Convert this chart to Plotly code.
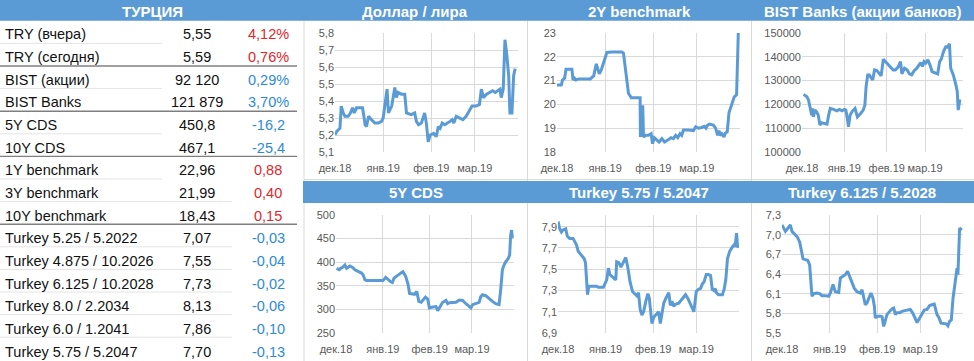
import pandas as pd
import plotly.graph_objects as go

W, H = 974, 361
BASE = pd.Timestamp("2018-12-01")

# ---------------- table data ----------------
table_title = "ТУРЦИЯ"
table_labels = ["TRY (вчера)", "TRY (сегодня)", "BIST (акции)", "BIST Banks", "5Y CDS", "10Y CDS",
                "1Y benchmark", "3Y benchmark", "10Y benchmark", "Turkey 5.25 / 5.2022",
                "Turkey 4.875 / 10.2026", "Turkey 6.125 / 10.2028", "Turkey 8.0 / 2.2034",
                "Turkey 6.0 / 1.2041", "Turkey 5.75 / 5.2047"]
table_values = ["5,55", "5,59", "92 120", "121 879", "450,8", "467,1", "22,96", "21,99", "18,43",
                "7,07", "7,55", "7,73", "8,13", "7,86", "7,70"]
table_changes = ["4,12%", "0,76%", "0,29%", "3,70%", "-16,2", "-25,4", "0,88", "0,40", "0,15",
                 "-0,03", "-0,04", "-0,02", "-0,06", "-0,10", "-0,13"]
table_change_negative_for_market = [True, True, False, False, False, False, True, True, True,
                                    False, False, False, False, False, False]

# ---------------- chart data (days since 1 Dec 2018) ----------------
month_ticks = ["2018-12-01", "2019-01-01", "2019-02-01", "2019-03-01"]
month_labels = ["дек.18", "янв.19", "фев.19", "мар.19"]

usd_try_days = [0, 1, 3.2, 4, 5.3, 6.4, 8.5, 10, 11.3, 12.4, 13.9, 16, 17.7, 18.6, 19.4, 20.3, 21.6, 23.5,
                25.6, 27.8, 30, 31, 33.5, 34.4, 36.5, 38.5, 39.5, 40.6, 42.7, 44.9, 46, 49, 51.3, 52.4,
                53.8, 55.6, 57.7, 58.8, 60, 61.3, 63.5, 65.2, 66.5, 67.7, 69, 70.7, 72.6, 74, 75.4, 76.5,
                78, 80, 82.3, 84.4, 86.5, 88.2, 90.8, 93, 94.2, 95.5, 97.6, 99.8, 101.5, 103.2, 104.9,
                106.2, 107, 108.3, 109.4, 110.5, 111.8, 112.6, 113.9, 115, 116]
usd_try_vals = [5.20, 5.22, 5.24, 5.37, 5.33, 5.31, 5.31, 5.33, 5.36, 5.33, 5.36, 5.36, 5.36, 5.31, 5.26,
                5.25, 5.31, 5.29, 5.27, 5.27, 5.28, 5.30, 5.47, 5.33, 5.37, 5.48, 5.42, 5.45, 5.44, 5.44,
                5.33, 5.32, 5.33, 5.28, 5.26, 5.27, 5.33, 5.27, 5.16, 5.20, 5.21, 5.19, 5.25, 5.24, 5.27,
                5.26, 5.27, 5.28, 5.29, 5.27, 5.31, 5.30, 5.29, 5.31, 5.34, 5.37, 5.37, 5.38, 5.47, 5.42,
                5.44, 5.45, 5.46, 5.45, 5.46, 5.47, 5.42, 5.47, 5.76, 5.68, 5.55, 5.33, 5.33, 5.55, 5.59]

bench2y_days = [0, 2.8, 3.6, 4.9, 5.8, 9.6, 10.3, 11.3, 12.2, 13.9, 21.4, 23.6, 25.3, 27.2, 28.5, 30.6,
                32.1, 35.3, 41.8, 42.8, 43.9, 45, 46, 47.8, 53.5, 53.7, 54.6, 55.2, 55.7, 57.2, 58.9,
                60.6, 61.5, 62.7, 64.2, 65.7, 67.5, 69.2, 71.3, 73.4, 74.9, 76.4, 77.7, 79.2, 80.3, 81.4,
                84.6, 87.8, 89.3, 91, 93.1, 94.9, 95.9, 97, 98.1, 100.6, 102.1, 103.4, 104.3, 104.9, 106,
                107.5, 108.1, 109.6, 110.7, 112.4, 114.1, 115.6, 116.7]
bench2y_vals = [20.82, 20.82, 21.03, 21.10, 21.48, 21.48, 21.03, 21.10, 21.03, 21.07, 21.07, 21.20, 21.70,
                21.28, 21.45, 21.94, 22.18, 22.20, 22.20, 22.15, 21.60, 20.90, 20.47, 20.28, 20.28, 18.63,
                19.90, 19.90, 18.63, 18.70, 18.70, 18.77, 18.35, 18.60, 18.50, 18.42, 18.56, 18.42, 18.50,
                18.60, 18.56, 18.70, 18.60, 18.77, 18.70, 18.92, 18.92, 18.90, 19.06, 19.00, 19.03, 19.08,
                19.00, 19.13, 19.17, 19.13, 19.00, 18.70, 18.90, 18.70, 18.77, 18.63, 18.77, 18.85, 19.65,
                20.04, 20.32, 20.40, 23.00]

bist_banks_days = [1.2, 3.6, 4.8, 6, 7.1, 7.9, 8.3, 9.5, 10.7, 11.9, 13.1, 14.3, 16.7, 18.3, 19.5, 20.7,
                   23.1, 25.5, 27.4, 29.3, 31, 32.1, 33.3, 34, 35.2, 36.9, 38.8, 40.5, 42.9, 44.8, 46,
                   46.9, 48.1, 49.3, 50.7, 51.7, 53.1, 54.8, 56.4, 57.9, 59.5, 61.2, 63.1, 65, 66.7, 68.3,
                   70.2, 72.1, 73.1, 75, 76.9, 78.6, 80.2, 82.1, 84, 85.7, 86.9, 88.1, 89.3, 90.5, 92.1,
                   93.6, 95.2, 96.9, 99.3, 100.7, 101.9, 103.6, 105.5, 106.4, 107.9, 108.8, 110.7, 112.6,
                   113.6, 114.3, 115, 115.5]
bist_banks_vals = [124200, 123200, 121800, 117600, 115500, 118300, 114800, 117600, 116900, 115500, 111300,
                   112300, 112000, 111700, 115500, 118300, 117900, 117300, 117900, 117300, 117900, 117600,
                   113400, 110600, 115500, 117200, 118300, 114800, 116200, 117600, 119700, 127500, 132400,
                   132400, 131000, 130300, 134500, 134200, 133100, 132000, 139000, 138000, 136600, 135900,
                   134500, 134500, 135600, 138000, 132800, 135200, 134500, 132800, 132400, 134200, 135200,
                   136600, 137600, 135900, 138000, 137300, 138700, 136600, 133800, 133400, 132800, 138000,
                   139000, 142300, 144600, 143700, 145500, 135200, 132400, 128200, 125400, 117600, 120400,
                   122100]

cds5y_days = [0.4, 2.2, 3.1, 4.4, 5.9, 7, 9.2, 11, 12.5, 14.7, 16.9, 18, 19.1, 20.2, 31.1, 32.9, 34.4, 36,
              37.3, 38.4, 39.9, 42.1, 44.3, 46.1, 47.6, 48.7, 52, 53.5, 54.8, 56.4, 57.9, 59.2, 60.7,
              61.8, 64, 66.2, 67.3, 68.4, 69.5, 70.6, 72.8, 73.9, 75, 77.2, 79.4, 81.6, 83.8, 86, 88.2,
              89.3, 90.4, 92.5, 94.7, 95.8, 96.9, 99.1, 101.3, 103.5, 105.7, 107.9, 109, 110.1, 111.2,
              112.3, 114, 114.9, 115.6, 116.2, 116.7]
cds5y_vals = [387, 384, 387, 389, 394, 387, 392, 389, 384, 380, 377, 373, 363, 361, 361, 368, 363, 359,
              357, 366, 370, 375, 380, 370, 354, 334, 332, 338, 317, 315, 320, 326, 322, 303, 305, 306,
              297, 303, 310, 315, 319, 312, 314, 314, 315, 320, 319, 312, 306, 303, 310, 312, 315, 327,
              331, 329, 322, 317, 312, 310, 342, 384, 394, 401, 408, 415, 458, 468, 451]

t2047_days = [0, 1.1, 2.2, 3.3, 5, 6.1, 7.6, 9.8, 10.9, 12, 13.1, 15.3, 17, 17.9, 18.8, 19.2, 20.1, 25.1,
              26.2, 29.5, 31.7, 32.8, 33.8, 36, 37.6, 38.2, 39.7, 41, 42.6, 44.1, 45.4, 46.9, 48.5, 50.2,
              51.3, 52.4, 53.5, 54.6, 55.7, 57.2, 58.5, 59.4, 60.5, 61.1, 62.4, 63.8, 65.5, 66.6, 67.7,
              68.8, 70.3, 72.1, 73.1, 74.2, 75.3, 76.4, 78.6, 80.3, 81.9, 83, 84.7, 86.2, 87.8, 88.4, 90,
              91.3, 92.8, 93.9, 95, 96.5, 97.8, 99.3, 100.4, 101.5, 102.2, 103.1, 104.4, 107, 108.1,
              109.2, 110.3, 111.8, 113.5, 114.6, 115.3, 116.2, 116.8, 117.4]
t2047_vals = [7.95, 7.88, 7.85, 7.87, 7.88, 7.81, 7.79, 7.79, 7.76, 7.73, 7.67, 7.63, 7.60, 7.56, 7.37,
              7.26, 7.34, 7.34, 7.33, 7.33, 7.40, 7.51, 7.45, 7.42, 7.40, 7.57, 7.56, 7.52, 7.56, 7.61,
              7.52, 7.38, 7.29, 7.26, 7.25, 7.28, 7.12, 7.07, 7.10, 7.20, 7.27, 7.23, 7.09, 6.99, 7.05,
              7.07, 7.10, 6.99, 7.10, 7.18, 7.23, 7.28, 7.16, 7.20, 7.15, 7.17, 7.18, 7.21, 7.24, 7.26,
              7.22, 7.17, 7.12, 7.10, 7.29, 7.31, 7.32, 7.36, 7.38, 7.45, 7.45, 7.44, 7.31, 7.30, 7.32,
              7.28, 7.26, 7.26, 7.31, 7.40, 7.60, 7.67, 7.71, 7.73, 7.71, 7.84, 7.73, 7.70]

t2028_days = [0, 1.1, 2.2, 3.3, 4.3, 5.4, 6.5, 8, 9.8, 11.5, 12.4, 13.7, 15.2, 16.7, 18, 18.9, 19.5, 20.6,
              22.8, 24.5, 26, 28.2, 30.4, 31.5, 33.2, 34.7, 36.9, 38, 39.7, 41.2, 42.7, 44, 45.6, 47.1,
              48.8, 51, 52.1, 53.1, 54.2, 55.3, 56.4, 57.9, 59.2, 60.1, 60.7, 61.8, 63.6, 65.1, 66.2,
              67.2, 68.3, 70.1, 71.6, 72.7, 73.8, 74.8, 76.6, 78.1, 80.3, 82.4, 83.5, 85.2, 86.8, 87.9,
              89.6, 91.1, 92.6, 94.4, 96.1, 97.6, 99.1, 100.9, 102, 103.5, 105.2, 106.9, 108, 109.1,
              110.2, 111.3, 112.8, 113.9, 114.5, 115.6, 116.5, 117.1]
t2028_vals = [7.15, 7.10, 7.05, 7.08, 7.12, 7.15, 7.05, 7.01, 6.97, 6.89, 6.79, 6.63, 6.62, 6.61, 6.54,
              6.18, 6.06, 6.10, 6.11, 6.10, 6.07, 6.07, 6.06, 6.11, 6.24, 6.13, 6.12, 6.34, 6.36, 6.39,
              6.44, 6.36, 6.26, 6.18, 6.13, 6.11, 6.16, 6.06, 5.93, 5.96, 6.03, 6.11, 6.03, 5.91, 5.73,
              5.75, 5.76, 5.75, 5.60, 5.68, 5.78, 5.83, 5.87, 5.88, 5.78, 5.81, 5.81, 5.83, 5.84, 5.85,
              5.86, 5.80, 5.73, 5.66, 5.73, 5.80, 5.85, 5.86, 5.92, 5.93, 5.94, 5.78, 5.74, 5.65, 5.65,
              5.64, 5.61, 5.68, 5.70, 6.03, 6.29, 6.49, 6.39, 7.10, 7.08, 7.07]

usd_try_ticks = [5.1, 5.2, 5.3, 5.4, 5.5, 5.6, 5.7, 5.8]
usd_try_ticklabels = ["5,1", "5,2", "5,3", "5,4", "5,5", "5,6", "5,7", "5,8"]
bench2y_ticks = [18, 19, 20, 21, 22, 23]
bench2y_ticklabels = ["18", "19", "20", "21", "22", "23"]
bist_banks_ticks = [100000, 110000, 120000, 130000, 140000, 150000]
bist_banks_ticklabels = ["100000", "110000", "120000", "130000", "140000", "150000"]
cds5y_ticks = [250, 300, 350, 400, 450, 500]
cds5y_ticklabels = ["250", "300", "350", "400", "450", "500"]
t2047_ticks = [6.9, 7.1, 7.3, 7.5, 7.7, 7.9]
t2047_ticklabels = ["6,9", "7,1", "7,3", "7,5", "7,7", "7,9"]
t2028_ticks = [5.5, 5.8, 6.1, 6.4, 6.7, 7.0, 7.3]
t2028_ticklabels = ["5,5", "5,8", "6,1", "6,4", "6,7", "7,0", "7,3"]

chart_titles = ["Доллар / лира", "2Y benchmark", "BIST Banks (акции банков)",
                "5Y CDS", "Turkey 5.75 / 5.2047", "Turkey 6.125 / 5.2028"]

# ---------------- styling / layout ----------------
BLUE = "#5B9BD5"
GRID = "#D9D9D9"
TICK = "#595959"
RED = "#E3262B"
VBLUE = "#2E8AD8"
FONT = "Liberation Sans, Arial, sans-serif"


def X(px):
    return px / W


def Y(py):
    return 1 - py / H


def to_dates(days):
    return [BASE + pd.Timedelta(days=d) for d in days]


charts = [
    # (days, vals, yrange, ticks, ticklabels, (x0, x1, ytop, ybottom), title center x, title y)
    (usd_try_days, usd_try_vals, [5.1, 5.8], usd_try_ticks, usd_try_ticklabels, (335, 518, 33, 152), 415, 11),
    (bench2y_days, bench2y_vals, [18, 23], bench2y_ticks, bench2y_ticklabels, (557, 740, 33, 152), 639, 11),
    (bist_banks_days, bist_banks_vals, [100000, 150000], bist_banks_ticks, bist_banks_ticklabels,
     (802, 963, 33, 152), 863, 11),
    (cds5y_days, cds5y_vals, [250, 500], cds5y_ticks, cds5y_ticklabels, (336, 514, 215, 333), 416, 192.5),
    (t2047_days, t2047_vals, [6.9, 8.01], t2047_ticks, t2047_ticklabels, (558, 739, 215, 333), 639, 192.5),
    (t2028_days, t2028_vals, [5.5, 7.3], t2028_ticks, t2028_ticklabels, (782, 963, 215, 333), 862, 192.5),
]

fig = go.Figure()
layout = dict(
    template="none",
    width=W, height=H, margin=dict(l=0, r=0, t=0, b=0, pad=0, autoexpand=False),
    paper_bgcolor="white", plot_bgcolor="rgba(0,0,0,0)",
    showlegend=False, font=dict(family=FONT),
)
annotations = []
shapes = []

xrange = [BASE, BASE + pd.Timedelta(days=117.8)]

for i, (days, vals, yr, yt, ytl, box, tcx, tcy) in enumerate(charts):
    n = "" if i == 0 else str(i + 1)
    x0, x1, yt0, yb0 = box
    fig.add_trace(go.Scatter(
        x=to_dates(days), y=vals, mode="lines",
        line=dict(color=BLUE, width=3), xaxis="x" + n, yaxis="y" + n,
        hoverinfo="skip",
    ))
    layout["xaxis" + n] = dict(
        domain=[X(x0), X(x1)], anchor="y" + n, type="date", range=xrange, automargin=False,
        tickmode="array", tickvals=month_ticks, ticktext=month_labels,
        showgrid=True, gridcolor=GRID, gridwidth=1, zeroline=False, showline=False,
        ticks="outside", ticklen=6, tickcolor="rgba(0,0,0,0)",
        tickfont=dict(size=11, color=TICK, family=FONT), tickangle=0,
    )
    layout["yaxis" + n] = dict(
        domain=[Y(yb0), Y(yt0)], anchor="x" + n, range=yr, automargin=False,
        tickmode="array", tickvals=yt, ticktext=ytl,
        showgrid=True, gridcolor=GRID, gridwidth=1, zeroline=False, showline=False,
        ticks="", tickfont=dict(size=11, color=TICK, family=FONT),
    )
    annotations.append(dict(
        x=X(tcx), y=Y(tcy), xref="paper", yref="paper", text="<b>%s</b>" % chart_titles[i],
        showarrow=False, xanchor="center", yanchor="middle",
        font=dict(size=15, color="white", family=FONT),
    ))

# panel frame lines
for vx in (304, 527.5, 751.5):
    shapes.append(dict(type="line", xref="paper", yref="paper", x0=X(vx), x1=X(vx),
                       y0=Y(20), y1=Y(361), line=dict(color=GRID, width=1), layer="below"))
shapes.append(dict(type="line", xref="paper", yref="paper", x0=X(304), x1=X(974),
                   y0=Y(179.5), y1=Y(179.5), line=dict(color=GRID, width=1), layer="below"))

# blue bands
shapes.append(dict(type="rect", xref="paper", yref="paper", x0=0, x1=1, y0=Y(20.8), y1=1,
                   fillcolor=BLUE, line=dict(width=0), layer="above"))
shapes.append(dict(type="rect", xref="paper", yref="paper", x0=X(303), x1=1, y0=Y(203), y1=Y(181),
                   fillcolor=BLUE, line=dict(width=0), layer="above"))

annotations.append(dict(
    x=X(152), y=Y(11), xref="paper", yref="paper", text="<b>%s</b>" % table_title,
    showarrow=False, xanchor="center", yanchor="middle",
    font=dict(size=15, color="white", family=FONT),
))

# table rows
ROW_TOP = 20.8
PITCH = 22.6
dark_after = {1, 3, 5, 8}
short_light_after = {0, 2, 4, 6}
for r, (lab, val, chg, bad) in enumerate(zip(table_labels, table_values, table_changes,
                                              table_change_negative_for_market)):
    cy = 34.3 + 22.67 * r
    annotations.append(dict(x=X(3), y=Y(cy), xref="paper", yref="paper", text=lab,
                            showarrow=False, xanchor="left", yanchor="middle",
                            font=dict(size=14.5, color="#111111", family=FONT)))
    annotations.append(dict(x=X(197), y=Y(cy), xref="paper", yref="paper", text=val,
                            showarrow=False, xanchor="center", yanchor="middle",
                            font=dict(size=14.5, color="#111111", family=FONT)))
    annotations.append(dict(x=X(268), y=Y(cy), xref="paper", yref="paper", text=chg,
                            showarrow=False, xanchor="center", yanchor="middle",
                            font=dict(size=14.5, color=RED if bad else VBLUE, family=FONT)))
    by = ROW_TOP + PITCH * (r + 1)
    if r == len(table_labels) - 1:
        continue
    if r in dark_after:
        shapes.append(dict(type="line", xref="paper", yref="paper", x0=0, x1=X(297),
                           y0=Y(by), y1=Y(by), line=dict(color="#7F7F7F", width=1.4)))
    else:
        xe = 162 if r in short_light_after else 232
        shapes.append(dict(type="line", xref="paper", yref="paper", x0=0, x1=X(xe),
                           y0=Y(by), y1=Y(by), line=dict(color="#E4E4E4", width=1)))

layout["annotations"] = annotations
layout["shapes"] = shapes
fig.update_layout(**layout)
fig.write_html(
    "out.html",
    config={"displayModeBar": False, "staticPlot": True},
    post_script="document.body.style.margin='0';document.body.style.padding='0';"
                "document.body.style.overflow='hidden';",
)
